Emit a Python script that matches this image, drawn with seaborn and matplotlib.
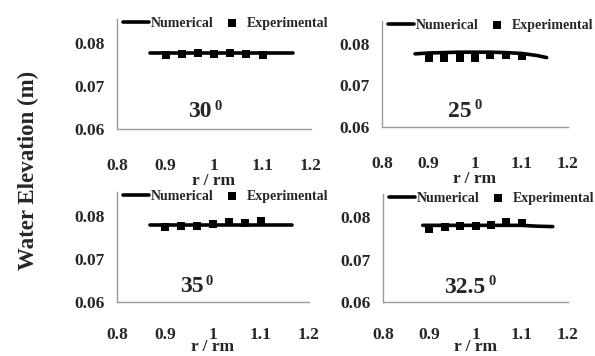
import matplotlib
matplotlib.use("Agg")
import matplotlib.pyplot as plt
import seaborn as sns
import pandas as pd

sns.set_style("white")
plt.rcParams['font.family'] = ['Liberation Serif', 'DejaVu Serif']
plt.rcParams['font.weight'] = 'bold'

# ---- data ----
x_exp = [0.9, 0.933, 0.967, 1.0, 1.033, 1.067, 1.1]

num_x_30 = [0.869, 0.9, 0.967, 1.033, 1.1, 1.163]
num_y_30 = [0.0776, 0.0776, 0.0776, 0.0776, 0.0776, 0.0776]
exp_y_30 = [0.0771, 0.0774, 0.0776, 0.0774, 0.0776, 0.0774, 0.0771]

num_x_25 = [0.871, 0.9, 0.933, 0.967, 1.0, 1.033, 1.067, 1.1, 1.133, 1.154]
num_y_25 = [0.0776, 0.0778, 0.0779, 0.0780, 0.0780, 0.0780, 0.0779, 0.0777, 0.0772, 0.0767]
exp_y_25 = [0.0766, 0.0766, 0.0767, 0.0767, 0.0774, 0.0774, 0.0772]

num_x_35 = [0.869, 0.9, 0.967, 1.033, 1.1, 1.165]
num_y_35 = [0.0779, 0.0779, 0.0779, 0.0779, 0.0779, 0.0779]
exp_y_35 = [0.0775, 0.0777, 0.0777, 0.0781, 0.0785, 0.0783, 0.0788]

num_x_325 = [0.886, 0.9, 0.967, 1.033, 1.1, 1.133, 1.167]
num_y_325 = [0.0781, 0.0781, 0.0781, 0.0781, 0.0781, 0.0779, 0.0778]
exp_y_325 = [0.0772, 0.0776, 0.0780, 0.0780, 0.0782, 0.0790, 0.0786]

angles = ["30", "25", "35", "32.5"]
x_ticks = [0.8, 0.9, 1.0, 1.1, 1.2]
x_tick_labels = ["0.8", "0.9", "1", "1.1", "1.2"]
y_ticks = [0.06, 0.07, 0.08]
y_tick_labels = ["0.06", "0.07", "0.08"]

panels = [
    (num_x_30, num_y_30, exp_y_30, angles[0]),
    (num_x_25, num_y_25, exp_y_25, angles[1]),
    (num_x_35, num_y_35, exp_y_35, angles[2]),
    (num_x_325, num_y_325, exp_y_325, angles[3]),
]

W, H = 595, 356
fig = plt.figure(figsize=(W / 100, H / 100), dpi=100)

# (left, bottom, right, top) in pixels from top-left
boxes = [
    (117, 129, 311, 19),
    (382, 127, 568, 21),
    (117, 302, 309, 192),
    (383, 302, 568, 194),
]
label_pos = [(0.971, 0.0640), (0.968, 0.0638), (0.955, 0.0635), (0.977, 0.0635)]
xtick_pads = [21, 21, 18, 18]
xlabel_pads = [-1, -1, -3, -3]

for (nx, ny, ey, ang), (l, b, r, t), (tx, ty), tp, lp in zip(
        panels, boxes, label_pos, xtick_pads, xlabel_pads):
    ax = fig.add_axes([l / W, 1 - b / H, (r - l) / W, (b - t) / H])
    dnum = pd.DataFrame({"x": nx, "y": ny})
    dexp = pd.DataFrame({"x": x_exp, "y": ey})
    sns.lineplot(data=dnum, x="x", y="y", ax=ax, color="black", lw=2.6,
                 label="Numerical", zorder=2)
    sns.scatterplot(data=dexp, x="x", y="y", ax=ax, color="black", marker="s",
                    s=30, edgecolor="black", linewidth=0, label="Experimental",
                    zorder=3)
    ax.set_xlim(0.8, 1.2)
    ax.set_ylim(0.06, 0.0855)
    ax.set_xticks(x_ticks)
    ax.set_xticklabels(x_tick_labels, fontsize=12.5, fontweight='bold')
    ax.set_yticks(y_ticks)
    ax.set_yticklabels(y_tick_labels, fontsize=12.5, fontweight='bold')
    ax.tick_params(axis='x', length=0, pad=tp)
    ax.tick_params(axis='y', length=0, pad=9)
    ax.set_xlabel("r / rm", fontsize=12.5, fontweight='bold', labelpad=lp)
    ax.set_ylabel("")
    for s in ["top", "right"]:
        ax.spines[s].set_visible(False)
    for s in ["left", "bottom"]:
        ax.spines[s].set_color("#9a9a9a")
        ax.spines[s].set_linewidth(1.0)
    ax.patch.set_alpha(0)
    leg = ax.legend(loc="center left", bbox_to_anchor=(0.03, 0.96), ncol=2,
                    frameon=False, borderpad=0, borderaxespad=0,
                    handlelength=1.9, handletextpad=0.1, columnspacing=0.4,
                    prop={'weight': 'bold', 'size': 10})
    t = ax.text(tx, ty, ang, ha="center", va="center", fontsize=17,
                fontweight='bold')
    ax.annotate("0", xy=(1, 1), xycoords=t, xytext=(2, 1),
                textcoords="offset points", ha="left", va="top",
                fontsize=10.5, fontweight='bold')

fig.text(28 / W, 1 - 170 / H, "Water Elevation (m)", rotation=90,
         ha="center", va="center", fontsize=16.5, fontweight='bold')

fig.savefig("out.png", dpi=100)
